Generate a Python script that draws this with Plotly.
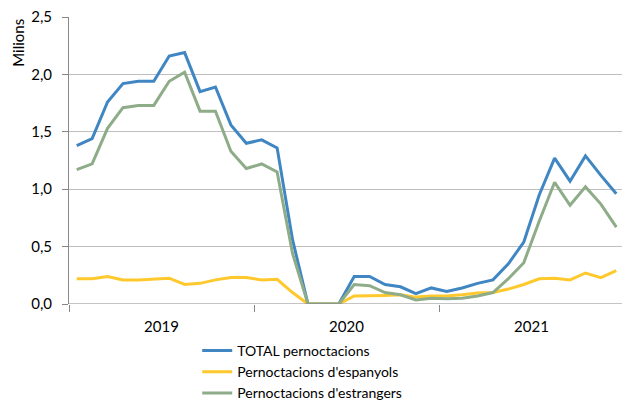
import plotly.graph_objects as go

months = list(range(36))
year_labels = ["2019", "2020", "2021"]

total = [1.38, 1.44, 1.76, 1.92, 1.94, 1.94, 2.16, 2.19, 1.85, 1.89, 1.56, 1.40,
         1.43, 1.36, 0.56, 0.0, 0.0, 0.0, 0.24, 0.24, 0.17, 0.15, 0.09, 0.14,
         0.11, 0.14, 0.18, 0.21, 0.35, 0.54, 0.95, 1.27, 1.07, 1.29, 1.12, 0.96]
espanyols = [0.22, 0.22, 0.24, 0.21, 0.21, 0.215, 0.225, 0.17, 0.18, 0.21, 0.23, 0.23,
             0.21, 0.215, 0.10, 0.0, 0.0, 0.0, 0.07, 0.07, 0.075, 0.08, 0.06, 0.07,
             0.07, 0.08, 0.095, 0.10, 0.13, 0.17, 0.22, 0.225, 0.21, 0.27, 0.23, 0.29]
estrangers = [1.17, 1.22, 1.53, 1.71, 1.73, 1.73, 1.94, 2.02, 1.68, 1.68, 1.33, 1.18,
              1.22, 1.15, 0.44, 0.0, 0.0, 0.0, 0.17, 0.16, 0.10, 0.08, 0.035, 0.05,
              0.045, 0.05, 0.07, 0.10, 0.22, 0.36, 0.72, 1.06, 0.86, 1.02, 0.87, 0.67]

names = ["TOTAL pernoctacions", "Pernoctacions d'espanyols", "Pernoctacions d'estrangers"]
colors = ["#3F86C2", "#FFC92E", "#8EAC88"]

fig = go.Figure()
for name, vals, col in zip(names, [total, espanyols, estrangers], colors):
    fig.add_trace(go.Scatter(x=months, y=vals, mode="lines", name=name,
                             line=dict(color=col, width=3)))

font = "Lato"
# The page body has an 8px margin, so the figure is sized/offset to compensate.
fig.update_layout(
    width=622, height=393,
    margin=dict(l=61, r=6, t=9, b=97, autoexpand=False),
    paper_bgcolor="white", plot_bgcolor="white",
    font=dict(family=font, size=15, color="#000000"),
    showlegend=True,
    legend=dict(x=0.231, y=-0.108, xanchor="left", yanchor="top",
                font=dict(size=14, color="#000000"), tracegroupgap=0,
                itemwidth=30, bgcolor="rgba(0,0,0,0)"),
    xaxis=dict(range=[-0.5, 35.5], tickmode="array",
               tickvals=[5.5, 17.5, 29.5], ticktext=year_labels,
               ticks="", showgrid=False, zeroline=False, automargin=False,
               showline=False, tickfont=dict(size=15), ticklabelstandoff=12,
               minor=dict(tick0=-0.5, dtick=12, ticks="outside", ticklen=7,
                          tickcolor="#888888", showgrid=False),
               fixedrange=True),
    yaxis=dict(range=[0, 2.5], tickvals=[0, 0.5, 1.0, 1.5, 2.0, 2.5],
               ticktext=["0,0", "0,5", "1,0", "1,5", "2,0", "2,5"],
               ticks="outside", ticklen=6, tickcolor="#888888", automargin=False,
               showgrid=True, gridcolor="#BFBFBF", gridwidth=1,
               showline=True, linecolor="#888888", linewidth=1,
               ticklabeloverflow="allow",
               zeroline=False, tickfont=dict(size=15), ticklabelstandoff=7),
)
# x-axis baseline
fig.add_shape(type="line", xref="paper", yref="y", x0=0, x1=1, y0=0, y1=0,
              line=dict(color="#888888", width=1))
fig.add_annotation(text="Milions", xref="paper", yref="paper",
                   x=-0.092, y=0.91, xanchor="center", yanchor="middle",
                   textangle=-90, showarrow=False,
                   font=dict(size=15, color="#000000"))
fig.write_html("out.html")
